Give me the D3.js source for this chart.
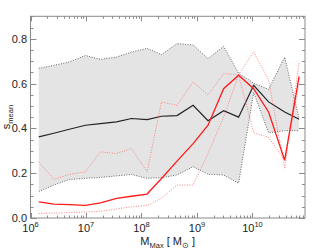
<!DOCTYPE html>
<html>
<head>
<meta charset="utf-8">
<script src="https://cdn.jsdelivr.net/npm/d3@7"></script>
<style>
  body { margin: 0; background: #fff; }
  svg { display: block; }
</style>
</head>
<body>
<div id="chart"></div>
<script>
// halo mass bins (M_sun)
var massBins = [1.41e6, 2.63e6, 5.01e6, 9.77e6, 1.82e7, 3.55e7, 6.61e7, 1.26e8, 2.29e8,
                4.37e8, 8.51e8, 1.58e9, 3.02e9, 5.62e9, 1.05e10, 1.95e10, 3.80e10, 6.92e10];

// mean s, all haloes, with scatter band
var sMeanAll = [0.362, 0.378, 0.396, 0.414, 0.421, 0.429, 0.444, 0.439, 0.454,
                0.457, 0.503, 0.434, 0.479, 0.450, 0.592, 0.518, 0.473, 0.441];
var bandUpper = [0.668, 0.681, 0.696, 0.725, 0.708, 0.718, 0.740, 0.757, 0.729,
                 0.778, 0.772, 0.711, 0.766, 0.646, 0.602, 0.574, 0.718, 0.443];
var bandLower = [0.118, 0.147, 0.172, 0.177, 0.181, 0.188, 0.194, 0.177, 0.180,
                 0.192, 0.229, 0.195, 0.192, 0.155, 0.560, 0.380, 0.390, 0.390];

// red sample: median and spread
var sMeanRed = [0.072, 0.062, 0.060, 0.056, 0.067, 0.088, 0.097, 0.107, 0.176,
                0.254, 0.332, 0.414, 0.577, 0.637, 0.577, 0.473, 0.258, 0.632];
var redUpper = [0.251, 0.172, 0.195, 0.206, 0.295, 0.288, 0.310, 0.206, 0.518,
                0.503, 0.607, 0.548, 0.644, 0.640, 0.741, 0.616, 0.220, 0.696];
var redLower = [0.020, 0.022, 0.024, 0.027, 0.030, 0.040, 0.050, 0.056, 0.088,
                0.147, 0.147, 0.288, 0.450, 0.637, 0.380, 0.360, 0.258, 0.600];

var yTickValues = [0.0, 0.2, 0.4, 0.6, 0.8];
var xTickExponents = [6, 7, 8, 9, 10];

var attrs = {
  svgWidth: 315,
  svgHeight: 252,
  left: 30.5,
  right: 305,
  top: 16.3,
  bottom: 218,
  font: "'Liberation Sans', Arial, Helvetica, sans-serif",
  axisColor: '#8a8a8a',
  textColor: '#222'
};

var svg = d3.select('#chart').append('svg')
  .attr('width', attrs.svgWidth)
  .attr('height', attrs.svgHeight)
  .attr('font-family', attrs.font);

var x = d3.scaleLog().domain([1e6, Math.pow(10, 10.946)]).range([attrs.left, attrs.right]);
var y = d3.scaleLinear().domain([0, 0.9]).range([attrs.bottom, attrs.top]);

var rows = massBins.map(function (m, i) {
  return { m: m, all: sMeanAll[i], up: bandUpper[i], lo: bandLower[i],
           red: sMeanRed[i], rUp: redUpper[i], rLo: redLower[i] };
});

var plot = svg.append('g');

// scatter band
plot.append('path')
  .datum(rows)
  .attr('fill', '#e4e4e4')
  .attr('d', d3.area().x(d => x(d.m)).y0(d => y(d.lo)).y1(d => y(d.up)));

function line(key) {
  return d3.line().x(d => x(d.m)).y(d => y(d[key]));
}

['up', 'lo'].forEach(function (k) {
  plot.append('path').datum(rows)
    .attr('fill', 'none')
    .attr('stroke', '#666')
    .attr('stroke-width', 1)
    .attr('stroke-dasharray', '1,1.5')
    .attr('d', line(k));
});

plot.append('path').datum(rows)
  .attr('fill', 'none')
  .attr('stroke', '#222')
  .attr('stroke-width', 1.2)
  .attr('d', line('all'));

['rUp', 'rLo'].forEach(function (k) {
  plot.append('path').datum(rows)
    .attr('fill', 'none')
    .attr('stroke', '#ff7f7f')
    .attr('stroke-width', 1)
    .attr('stroke-dasharray', '1,1.5')
    .attr('d', line(k));
});

plot.append('path').datum(rows)
  .attr('fill', 'none')
  .attr('stroke', '#ff1a1a')
  .attr('stroke-width', 1.3)
  .attr('d', line('red'));

// frame and ticks (IDL style, ticks on all sides pointing inward)
var axes = svg.append('g').attr('stroke', attrs.axisColor).attr('fill', 'none');
axes.append('rect')
  .attr('x', attrs.left).attr('y', attrs.top)
  .attr('width', attrs.right - attrs.left)
  .attr('height', attrs.bottom - attrs.top)
  .attr('stroke-width', 1);

var xTicks = x.ticks().filter(v => v >= 1e6 && v <= x.domain()[1]);
xTicks.forEach(function (v) {
  var major = xTickExponents.some(e => Math.abs(v - Math.pow(10, e)) < 1e-6 * v);
  var len = major ? 5 : 2.5;
  var px = Math.round(x(v)) + 0.5;
  axes.append('line').attr('x1', px).attr('x2', px)
    .attr('y1', attrs.bottom).attr('y2', attrs.bottom - len);
  axes.append('line').attr('x1', px).attr('x2', px)
    .attr('y1', attrs.top).attr('y2', attrs.top + len);
});

d3.range(0, 0.9001, 0.05).forEach(function (v) {
  var major = Math.abs(v / 0.2 - Math.round(v / 0.2)) < 1e-6;
  var len = major ? 6 : 3;
  var py = Math.round(y(v)) + 0.5;
  axes.append('line').attr('x1', attrs.left).attr('x2', attrs.left + len)
    .attr('y1', py).attr('y2', py);
  axes.append('line').attr('x1', attrs.right).attr('x2', attrs.right - len)
    .attr('y1', py).attr('y2', py);
});

// tick labels
var labels = svg.append('g').attr('fill', attrs.textColor).attr('font-size', 11);

yTickValues.forEach(function (v) {
  labels.append('text')
    .attr('x', 27)
    .attr('y', y(v) + 4)
    .attr('text-anchor', 'end')
    .text(v.toFixed(1));
});

xTickExponents.forEach(function (e) {
  var t = labels.append('text')
    .attr('x', x(Math.pow(10, e)))
    .attr('y', 232)
    .attr('text-anchor', 'middle');
  t.append('tspan').text('10');
  t.append('tspan').attr('dy', -5).attr('font-size', 7.5).text(e);
});

// axis titles
var xt = labels.append('text')
  .attr('x', (attrs.left + attrs.right) / 2)
  .attr('y', 245)
  .attr('text-anchor', 'middle');
xt.append('tspan').text('M');
xt.append('tspan').attr('font-size', 7.5).attr('dy', 2.5).text('Max');
xt.append('tspan').attr('dy', -2.5).text(' [ M');
xt.append('tspan').attr('font-size', 7.5).attr('dy', 2.5).text('\u2299');
xt.append('tspan').attr('dy', -2.5).text(' ]');

var yt = labels.append('text')
  .attr('transform', 'translate(10,' + 117 + ') rotate(-90)')
  .attr('text-anchor', 'middle');
yt.append('tspan').text('s');
yt.append('tspan').attr('font-size', 7.5).attr('dy', 2.5).text('mean');
</script>
</body>
</html>
